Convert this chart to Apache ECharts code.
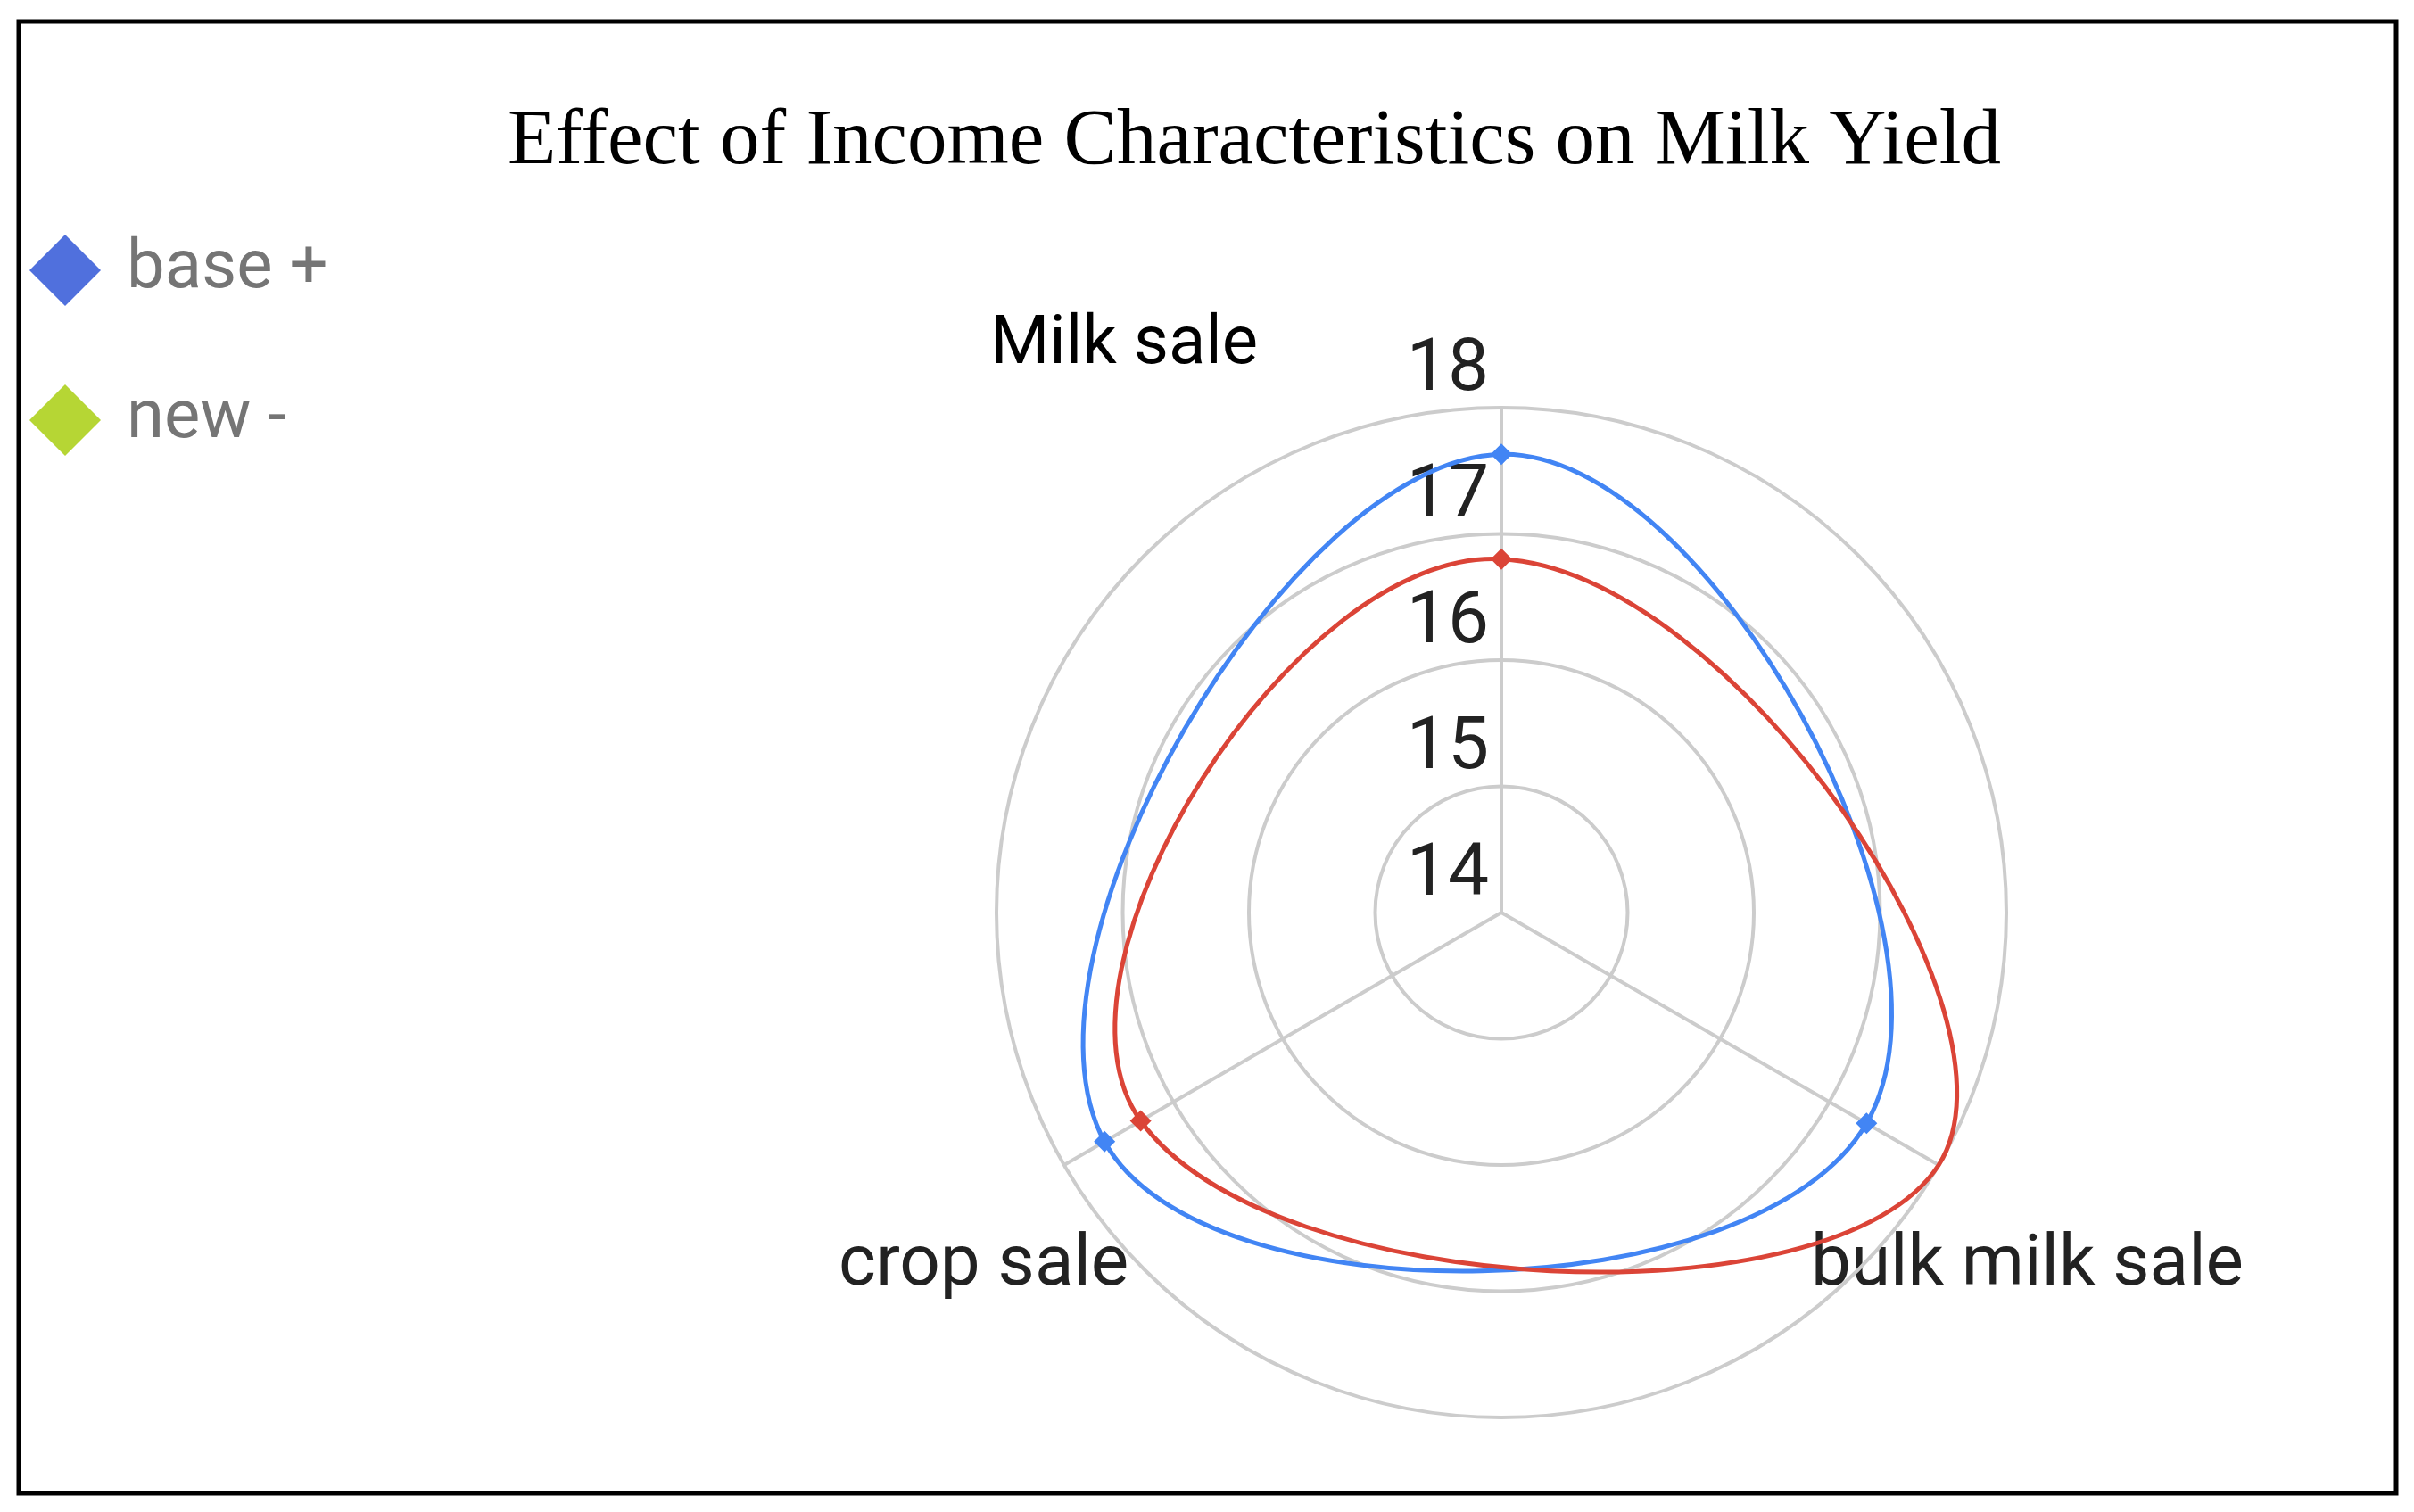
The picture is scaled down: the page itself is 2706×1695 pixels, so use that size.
<!DOCTYPE html>
<html>
<head>
<meta charset="utf-8">
<script src="https://cdn.jsdelivr.net/npm/echarts@6/dist/echarts.min.js"></script>
<style>
  html, body { margin: 0; padding: 0; background: #fff; }
  #chart { width: 2706px; height: 1695px; }
</style>
</head>
<body>
<div id="chart"></div>
<script>
var categories = ["Milk sale", "bulk milk sale", "crop sale"];
var categoryAngles = [0, 120, 240];
var baseValues = [17.63, 17.34, 17.63];
var newValues = [16.8, 18.0, 17.3];
var radiusTicks = [14, 15, 16, 17, 18];

function toPolar(values){
    var pts = [];
    values.forEach(function(v, i){
        pts.push([v, categoryAngles[i]]);
    });
    return pts;
}

// closed smooth outline through the points, placed by the polar scales
function curveSeries(name, color, values){
    return {
        name: name,
        type: "custom",
        coordinateSystem: "polar",
        data: toPolar(values),
        silent: true,
        renderItem: function(params, api){
            if (params.dataIndex !== 0) return null;
            var pts = toPolar(values).map(function(p){ return api.coord(p); });
            return {
                type: "polygon",
                shape: { points: pts, smooth: 0.55 },
                style: { fill: "none", stroke: color, lineWidth: 5 }
            };
        }
    };
}

function pointSeries(name, color, values){
    return {
        name: name,
        type: "line",
        coordinateSystem: "polar",
        symbol: "diamond",
        symbolSize: 24,
        color: color,
        lineStyle: { width: 0, opacity: 0 },
        data: toPolar(values),
        z: 5
    };
}

var myChart = echarts.init(document.getElementById("chart"));
var option = {
    backgroundColor: "#fff",
    title: {
        text: "Effect of Income Characteristics on Milk Yield",
        left: 1401,
        textAlign: "center",
        top: 110,
        textStyle: { fontFamily: "Liberation Serif", fontWeight: "normal", fontSize: 89, color: "#000" }
    },
    legend: {
        orient: "vertical",
        left: 28,
        top: 258,
        itemWidth: 80,
        itemHeight: 80,
        itemGap: 88,
        icon: "diamond",
        data: ["base +", "new -"],
        textStyle: { fontFamily: "Roboto", fontSize: 76, color: "#757575", padding: [0, 0, 0, 24] }
    },
    polar: {
        center: [1683, 1023],
        radius: 566
    },
    angleAxis: {
        type: "value",
        min: 0,
        max: 360,
        interval: 120,
        startAngle: 90,
        clockwise: true,
        axisLine: { show: false },
        axisTick: { show: false },
        axisLabel: { show: false },
        splitLine: { show: true, lineStyle: { color: "#cccccc", width: 4 } }
    },
    radiusAxis: {
        type: "value",
        min: radiusTicks[0],
        max: radiusTicks[radiusTicks.length - 1],
        interval: 1,
        axisLine: { show: false },
        axisTick: { show: false },
        axisLabel: {
            fontFamily: "Roboto",
            fontSize: 82,
            color: "#222",
            margin: 14,
            align: "right",
            verticalAlign: "bottom"
        },
        splitLine: { show: true, lineStyle: { color: "#cccccc", width: 4 } }
    },
    graphic: [
        { type: "rect", shape: { x: 21, y: 24, width: 2665, height: 1650 },
          style: { fill: "none", stroke: "#000", lineWidth: 5 } },
        { type: "text", left: 1110, top: 350,
          style: { text: categories[0], fontFamily: "Roboto", fontSize: 76, fill: "#000" } },
        { type: "text", left: 2030, top: 1380,
          style: { text: categories[1], fontFamily: "Roboto", fontSize: 80, fill: "#222" } },
        { type: "text", left: 940, top: 1380,
          style: { text: categories[2], fontFamily: "Roboto", fontSize: 80, fill: "#222" } }
    ],
    series: [
        curveSeries("base +", "#4285F4", baseValues),
        curveSeries("new -", "#DB4437", newValues),
        pointSeries("base +", "#4285F4", baseValues),
        pointSeries("new -", "#DB4437", newValues)
    ]
};
myChart.setOption(option, true);
</script>
</body>
</html>
